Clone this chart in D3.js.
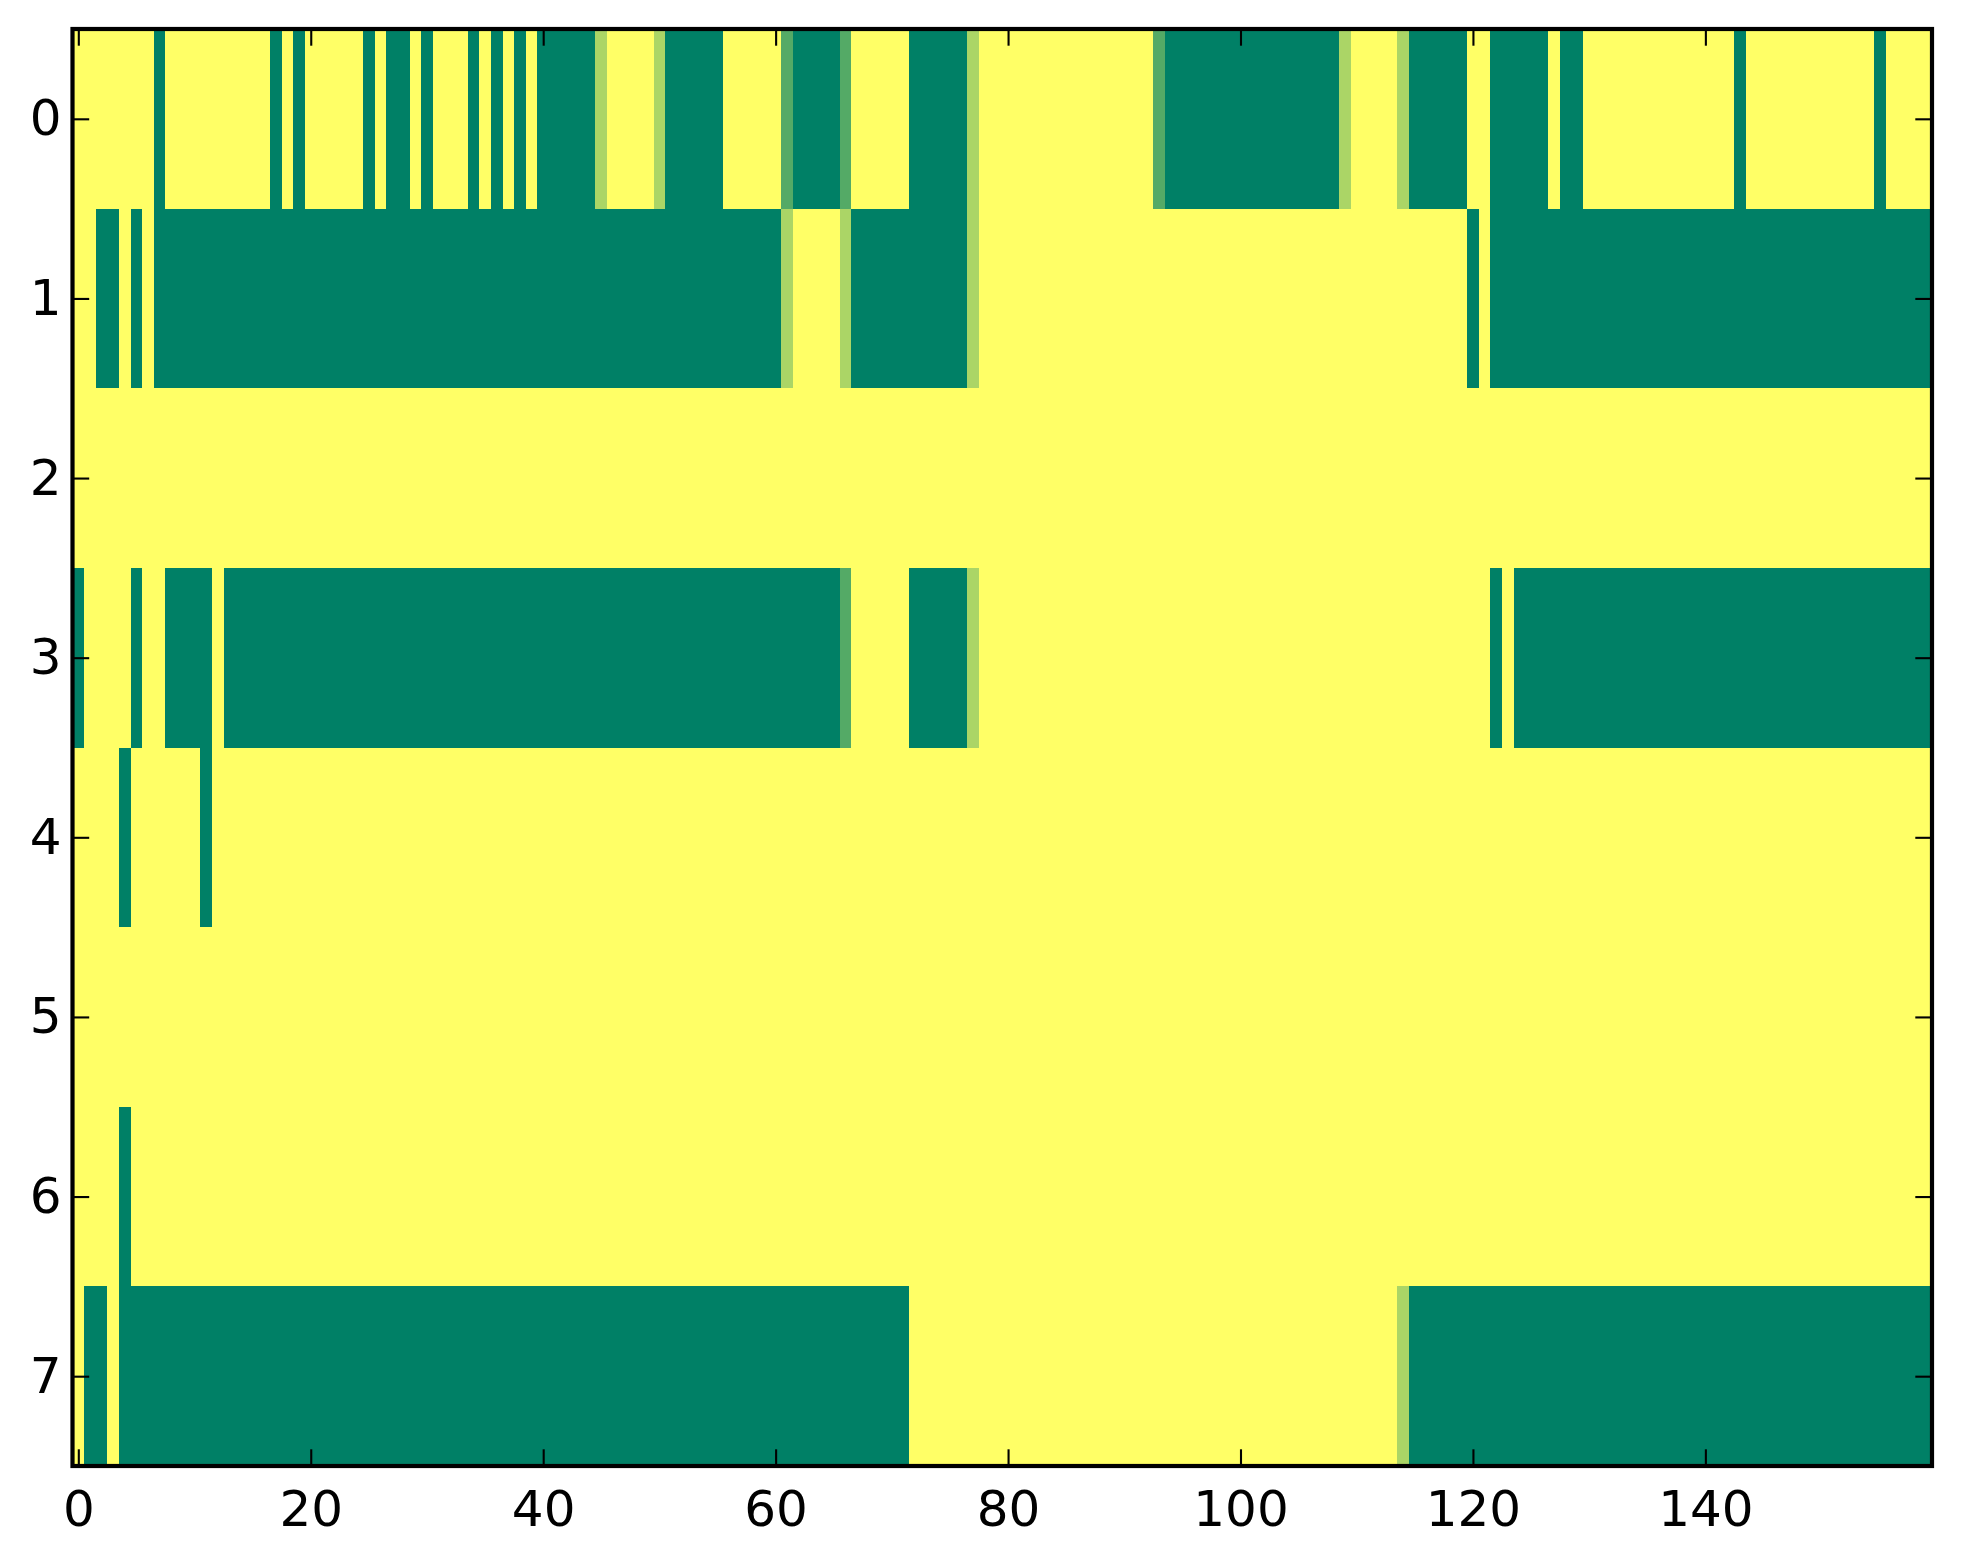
<!DOCTYPE html>
<html>
<head>
<meta charset="utf-8">
<script src="https://cdn.jsdelivr.net/npm/d3@7"></script>
<style>
  html, body { margin: 0; padding: 0; background: #ffffff; }
  svg { display: block; }
  .tick text { font-family: "DejaVu Sans", sans-serif; font-size: 50px; fill: #000; }
</style>
</head>
<body>
<svg id="chart" width="1963" height="1564"></svg>
<script>
// ---- data: one array per row (values 0..1, colormap "summer") ----
const row0 = [
  1,1,1,1,1,1,1,0,1,1,  1,1,1,1,1,1,1,0,1,0,  1,1,1,1,1,0,1,0,0,1,  0,1,1,1,0,1,0,1,0,1,
  0,0,0,0,0,.67,1,1,1,1,  .67,0,0,0,0,0,1,1,1,1,  1,.33,0,0,0,0,.33,1,1,1,  1,1,0,0,0,0,0,.67,1,1,
  1,1,1,1,1,1,1,1,1,1,  1,1,1,.33,0,0,0,0,0,0,  0,0,0,0,0,0,0,0,0,.67,  1,1,1,1,.67,0,0,0,0,0,
  1,1,0,0,0,0,0,1,0,0,  1,1,1,1,1,1,1,1,1,1,  1,1,1,0,1,1,1,1,1,1,  1,1,1,1,1,0,1,1,1,1
];
const row1 = [
  1,1,0,0,1,0,1,0,0,0,  0,0,0,0,0,0,0,0,0,0,  0,0,0,0,0,0,0,0,0,0,  0,0,0,0,0,0,0,0,0,0,
  0,0,0,0,0,0,0,0,0,0,  0,0,0,0,0,0,0,0,0,0,  0,.67,1,1,1,1,.67,0,0,0,  0,0,0,0,0,0,0,.67,1,1,
  1,1,1,1,1,1,1,1,1,1,  1,1,1,1,1,1,1,1,1,1,  1,1,1,1,1,1,1,1,1,1,  1,1,1,1,1,1,1,1,1,1,
  0,1,0,0,0,0,0,0,0,0,  0,0,0,0,0,0,0,0,0,0,  0,0,0,0,0,0,0,0,0,0,  0,0,0,0,0,0,0,0,0,0
];
const row2 = [
  1,1,1,1,1,1,1,1,1,1,  1,1,1,1,1,1,1,1,1,1,  1,1,1,1,1,1,1,1,1,1,  1,1,1,1,1,1,1,1,1,1,
  1,1,1,1,1,1,1,1,1,1,  1,1,1,1,1,1,1,1,1,1,  1,1,1,1,1,1,1,1,1,1,  1,1,1,1,1,1,1,1,1,1,
  1,1,1,1,1,1,1,1,1,1,  1,1,1,1,1,1,1,1,1,1,  1,1,1,1,1,1,1,1,1,1,  1,1,1,1,1,1,1,1,1,1,
  1,1,1,1,1,1,1,1,1,1,  1,1,1,1,1,1,1,1,1,1,  1,1,1,1,1,1,1,1,1,1,  1,1,1,1,1,1,1,1,1,1
];
const row3 = [
  0,1,1,1,1,0,1,1,0,0,  0,0,1,0,0,0,0,0,0,0,  0,0,0,0,0,0,0,0,0,0,  0,0,0,0,0,0,0,0,0,0,
  0,0,0,0,0,0,0,0,0,0,  0,0,0,0,0,0,0,0,0,0,  0,0,0,0,0,0,.33,1,1,1,  1,1,0,0,0,0,0,.67,1,1,
  1,1,1,1,1,1,1,1,1,1,  1,1,1,1,1,1,1,1,1,1,  1,1,1,1,1,1,1,1,1,1,  1,1,1,1,1,1,1,1,1,1,
  1,1,0,1,0,0,0,0,0,0,  0,0,0,0,0,0,0,0,0,0,  0,0,0,0,0,0,0,0,0,0,  0,0,0,0,0,0,0,0,0,0
];
const row4 = [
  1,1,1,1,0,1,1,1,1,1,  1,0,1,1,1,1,1,1,1,1,  1,1,1,1,1,1,1,1,1,1,  1,1,1,1,1,1,1,1,1,1,
  1,1,1,1,1,1,1,1,1,1,  1,1,1,1,1,1,1,1,1,1,  1,1,1,1,1,1,1,1,1,1,  1,1,1,1,1,1,1,1,1,1,
  1,1,1,1,1,1,1,1,1,1,  1,1,1,1,1,1,1,1,1,1,  1,1,1,1,1,1,1,1,1,1,  1,1,1,1,1,1,1,1,1,1,
  1,1,1,1,1,1,1,1,1,1,  1,1,1,1,1,1,1,1,1,1,  1,1,1,1,1,1,1,1,1,1,  1,1,1,1,1,1,1,1,1,1
];
const row5 = [
  1,1,1,1,1,1,1,1,1,1,  1,1,1,1,1,1,1,1,1,1,  1,1,1,1,1,1,1,1,1,1,  1,1,1,1,1,1,1,1,1,1,
  1,1,1,1,1,1,1,1,1,1,  1,1,1,1,1,1,1,1,1,1,  1,1,1,1,1,1,1,1,1,1,  1,1,1,1,1,1,1,1,1,1,
  1,1,1,1,1,1,1,1,1,1,  1,1,1,1,1,1,1,1,1,1,  1,1,1,1,1,1,1,1,1,1,  1,1,1,1,1,1,1,1,1,1,
  1,1,1,1,1,1,1,1,1,1,  1,1,1,1,1,1,1,1,1,1,  1,1,1,1,1,1,1,1,1,1,  1,1,1,1,1,1,1,1,1,1
];
const row6 = [
  1,1,1,1,0,1,1,1,1,1,  1,1,1,1,1,1,1,1,1,1,  1,1,1,1,1,1,1,1,1,1,  1,1,1,1,1,1,1,1,1,1,
  1,1,1,1,1,1,1,1,1,1,  1,1,1,1,1,1,1,1,1,1,  1,1,1,1,1,1,1,1,1,1,  1,1,1,1,1,1,1,1,1,1,
  1,1,1,1,1,1,1,1,1,1,  1,1,1,1,1,1,1,1,1,1,  1,1,1,1,1,1,1,1,1,1,  1,1,1,1,1,1,1,1,1,1,
  1,1,1,1,1,1,1,1,1,1,  1,1,1,1,1,1,1,1,1,1,  1,1,1,1,1,1,1,1,1,1,  1,1,1,1,1,1,1,1,1,1
];
const row7 = [
  1,0,0,1,0,0,0,0,0,0,  0,0,0,0,0,0,0,0,0,0,  0,0,0,0,0,0,0,0,0,0,  0,0,0,0,0,0,0,0,0,0,
  0,0,0,0,0,0,0,0,0,0,  0,0,0,0,0,0,0,0,0,0,  0,0,0,0,0,0,0,0,0,0,  0,0,1,1,1,1,1,1,1,1,
  1,1,1,1,1,1,1,1,1,1,  1,1,1,1,1,1,1,1,1,1,  1,1,1,1,1,1,1,1,1,1,  1,1,1,1,.67,0,0,0,0,0,
  0,0,0,0,0,0,0,0,0,0,  0,0,0,0,0,0,0,0,0,0,  0,0,0,0,0,0,0,0,0,0,  0,0,0,0,0,0,0,0,0,0
];
const rows = [row0, row1, row2, row3, row4, row5, row6, row7];
const xTickValues = [0, 20, 40, 60, 80, 100, 120, 140];
const yTickValues = [0, 1, 2, 3, 4, 5, 6, 7];

// ---- layout ----
const plotLeft = 72.5, plotRight = 1932, plotTop = 29, plotBottom = 1466;
const svg = d3.select("#chart");
svg.append("rect").attr("width", 1963).attr("height", 1564).attr("fill", "#ffffff");

const nCols = row0.length, nRows = rows.length;
const xScale = d3.scaleLinear().domain([-0.5, nCols - 0.5]).range([plotLeft, plotRight]);
const yScale = d3.scaleLinear().domain([-0.5, nRows - 0.5]).range([plotTop, plotBottom]);

// matplotlib "summer" colormap
const summer = t => d3.rgb(Math.round(255 * t), Math.round(255 * (0.5 + 0.5 * t)), Math.round(255 * 0.4));

const cells = [];
rows.forEach((r, ri) => r.forEach((v, ci) => cells.push({ r: ri, c: ci, v })));

svg.append("clipPath").attr("id", "clip")
  .append("rect").attr("x", plotLeft).attr("y", plotTop)
  .attr("width", plotRight - plotLeft).attr("height", plotBottom - plotTop);

svg.append("g").attr("clip-path", "url(#clip)")
  .selectAll("rect").data(cells).join("rect")
  .attr("x", d => xScale(d.c - 0.5))
  .attr("y", d => yScale(d.r - 0.5))
  .attr("width", d => xScale(d.c + 0.5) - xScale(d.c - 0.5) + 0.6)
  .attr("height", d => yScale(d.r + 0.5) - yScale(d.r - 0.5) + 0.6)
  .attr("fill", d => summer(d.v))
  .attr("shape-rendering", "crispEdges");

// ---- axes (ticks inward on all four sides) ----
const tickLen = 16.7;
function styleAxis(g) {
  g.select(".domain").remove();
  g.selectAll(".tick line").attr("stroke", "#000").attr("stroke-width", 2.1);
}
svg.append("g").attr("transform", `translate(0,${plotBottom})`)
  .call(d3.axisBottom(xScale).tickValues(xTickValues).tickSizeInner(-tickLen).tickSizeOuter(0).tickPadding(24.5))
  .call(styleAxis);
svg.append("g").attr("transform", `translate(0,${plotTop})`)
  .call(d3.axisTop(xScale).tickValues(xTickValues).tickSizeInner(-tickLen).tickSizeOuter(0).tickFormat(""))
  .call(styleAxis);
svg.append("g").attr("transform", `translate(${plotLeft},0)`)
  .call(d3.axisLeft(yScale).tickValues(yTickValues).tickSizeInner(-tickLen).tickSizeOuter(0).tickPadding(11))
  .call(styleAxis);
svg.append("g").attr("transform", `translate(${plotRight},0)`)
  .call(d3.axisRight(yScale).tickValues(yTickValues).tickSizeInner(-tickLen).tickSizeOuter(0).tickFormat(""))
  .call(styleAxis);

svg.selectAll(".tick text").attr("font-family", "DejaVu Sans").attr("font-size", 50).attr("fill", "#000");

// frame
svg.append("rect")
  .attr("x", plotLeft).attr("y", plotTop)
  .attr("width", plotRight - plotLeft).attr("height", plotBottom - plotTop)
  .attr("fill", "none").attr("stroke", "#000").attr("stroke-width", 4.2);
</script>
</body>
</html>
